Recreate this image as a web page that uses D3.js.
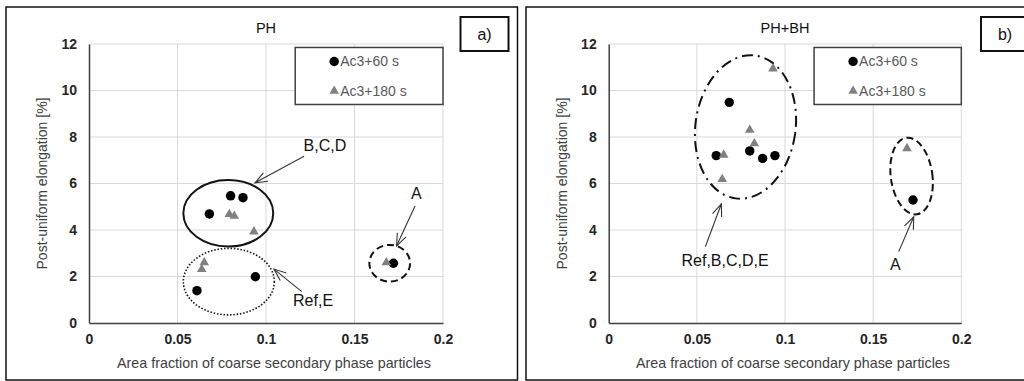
<!DOCTYPE html>
<html>
<head>
<meta charset="utf-8">
<script src="https://cdn.jsdelivr.net/npm/d3@7"></script>
<style>
  body { margin: 0; background: #fff; }
  svg { display: block; font-family: "Liberation Sans", Arial, sans-serif; }
</style>
</head>
<body>
<div id="chart"></div>
<script>
// Data
const xTicks = [0, 0.05, 0.1, 0.15, 0.2];
const yTicks = [0, 2, 4, 6, 8, 10, 12];
const seriesNames = ["Ac3+60 s", "Ac3+180 s"];

// Panel a) PH
const phShort = [[0.068, 4.69], [0.080, 5.47], [0.087, 5.39], [0.094, 1.99], [0.061, 1.39], [0.172, 2.57]];
const phLong = [[0.0793, 4.68], [0.0821, 4.6], [0.0932, 3.93], [0.0651, 2.6], [0.0637, 2.31], [0.168, 2.6]];

// Panel b) PH+BH
const phbhShort = [[0.061, 7.2], [0.0684, 9.49], [0.080, 7.4], [0.0873, 7.08], [0.0943, 7.2], [0.1726, 5.29]];
const phbhLong = [[0.0652, 7.23], [0.0644, 6.18], [0.080, 8.3], [0.0826, 7.72], [0.0932, 10.94], [0.1692, 7.51]];

// Group outlines (data units) and labelled arrows
const phGroups = [
  { cx: 0.0787, cy: 4.72, rx: 0.0254, ry: 1.43, rot: 0, style: "solid" },
  { cx: 0.079, cy: 1.78, rx: 0.0257, ry: 1.43, rot: 0, style: "dotted" },
  { cx: 0.1699, cy: 2.57, rx: 0.0115, ry: 0.79, rot: 0, style: "dashed" }
];
const phArrows = [
  { label: "B,C,D", from: [0.1215, 7.17], to: [0.0938, 6.03], at: [0.1333, 7.66] },
  { label: "Ref,E", from: [0.1202, 1.35], to: [0.1045, 2.32], at: [0.1266, 0.99] },
  { label: "A", from: [0.1842, 5.03], to: [0.1738, 3.32], at: [0.185, 5.59] }
];
const phbhGroups = [
  { cx: 0.0776, cy: 8.43, rx: 0.0284, ry: 3.1, rot: 8, style: "dashdot" },
  { cx: 0.1718, cy: 6.32, rx: 0.0118, ry: 1.66, rot: -8, style: "dashed" }
];
const phbhArrows = [
  { label: "Ref,B,C,D,E", from: [0.0548, 3.28], to: [0.0639, 5.12], at: [0.066, 2.71] },
  { label: "A", from: [0.1645, 3.07], to: [0.173, 4.57], at: [0.1626, 2.52] }
];

const width = 1024, height = 381;
const svg = d3.select("#chart").append("svg")
  .attr("width", width)
  .attr("height", height);

const dashes = { solid: null, dotted: "1.5,1.8", dashed: "7,4", dashdot: "11,5,2,5" };
const widths = { solid: 2, dotted: 1.6, dashed: 2, dashdot: 2 };

function drawPanel(cfg) {
  const g = svg.append("g");

  // outer frame
  g.append("rect")
    .attr("x", cfg.frame[0]).attr("y", cfg.frame[1])
    .attr("width", cfg.frame[2]).attr("height", cfg.frame[3])
    .attr("fill", "none").attr("stroke", "#111").attr("stroke-width", 1.5);

  const x = d3.scaleLinear().domain([0, 0.2]).range([cfg.left, cfg.right]);
  const y = d3.scaleLinear().domain([0, 12]).range([323, 44]);

  // gridlines
  g.append("g").selectAll("line.v").data(xTicks.slice(1)).join("line")
    .attr("x1", d => x(d)).attr("x2", d => x(d))
    .attr("y1", y(0)).attr("y2", y(12))
    .attr("stroke", "#d9d9d9").attr("stroke-width", 1);
  g.append("g").selectAll("line.h").data(yTicks.slice(1)).join("line")
    .attr("x1", x(0)).attr("x2", x(0.2))
    .attr("y1", d => y(d)).attr("y2", d => y(d))
    .attr("stroke", "#d9d9d9").attr("stroke-width", 1);

  // axes
  const xAxis = g.append("g").attr("transform", `translate(0,${y(0)})`)
    .call(d3.axisBottom(x).tickValues(xTicks).tickSize(0).tickPadding(11)
      .tickFormat(d => d === 0 ? "0" : String(+d.toFixed(2))));
  const yAxis = g.append("g").attr("transform", `translate(${x(0)},0)`)
    .call(d3.axisLeft(y).tickValues(yTicks).tickSize(0).tickPadding(12));
  [xAxis, yAxis].forEach(a => {
    a.select(".domain").attr("stroke", "#404040").attr("stroke-width", 1.5);
    a.selectAll("text").attr("font-size", 14).attr("font-weight", "bold")
      .attr("fill", "#262626").attr("font-family", "Liberation Sans, Arial, sans-serif");
  });

  // axis titles
  g.append("text")
    .attr("x", (x(0) + x(0.2)) / 2 + 8).attr("y", 368)
    .attr("text-anchor", "middle").attr("font-size", 14.3).attr("fill", "#404040")
    .text("Area fraction of coarse secondary phase particles");
  g.append("text")
    .attr("transform", `translate(${cfg.left - 47},${(y(0) + y(12)) / 2}) rotate(-90)`)
    .attr("text-anchor", "middle").attr("dy", "0.35em").attr("font-size", 14).attr("fill", "#404040")
    .text("Post-uniform elongation [%]");

  // title
  g.append("text")
    .attr("x", (x(0) + x(0.2)) / 2).attr("y", 33)
    .attr("text-anchor", "middle").attr("font-size", 14.5).attr("fill", "#111")
    .text(cfg.title);

  // panel tag box
  g.append("rect")
    .attr("x", cfg.tag[0]).attr("y", 17).attr("width", cfg.tag[1]).attr("height", 34)
    .attr("fill", "#fff").attr("stroke", "#111").attr("stroke-width", 2);
  g.append("text")
    .attr("x", cfg.tag[0] + 24).attr("y", 34).attr("dy", "0.35em")
    .attr("text-anchor", "middle").attr("font-size", 16).attr("fill", "#111")
    .text(cfg.tagText);

  // legend
  const lx = x(0.1165), ly = y(11.85);
  g.append("rect")
    .attr("x", lx).attr("y", ly).attr("width", x(0.2) - lx).attr("height", 57)
    .attr("fill", "#fff").attr("stroke", "#404040").attr("stroke-width", 1.5);
  const legendItems = [
    { name: seriesNames[0], sym: d3.symbolCircle, size: 70, color: "#000" },
    { name: seriesNames[1], sym: d3.symbolTriangle, size: 40, color: "#808080" }
  ];
  legendItems.forEach((it, i) => {
    const yy = ly + 14 + i * 29.5;
    g.append("path")
      .attr("d", d3.symbol(it.sym, it.size)())
      .attr("transform", `translate(${lx + 39},${yy})`)
      .attr("fill", it.color);
    g.append("text")
      .attr("x", lx + 45).attr("y", yy).attr("dy", "0.35em")
      .attr("font-size", 14).attr("fill", "#595959")
      .text(it.name);
  });

  // group outlines
  g.append("g").selectAll("ellipse").data(cfg.groups).join("ellipse")
    .attr("cx", 0).attr("cy", 0)
    .attr("rx", d => x(d.rx) - x(0))
    .attr("ry", d => y(0) - y(d.ry))
    .attr("transform", d => `translate(${x(d.cx)},${y(d.cy)}) rotate(${d.rot})`)
    .attr("fill", "none").attr("stroke", "#111")
    .attr("stroke-width", d => widths[d.style])
    .attr("stroke-dasharray", d => dashes[d.style]);

  // points
  g.append("g").selectAll("path").data(cfg.short).join("path")
    .attr("d", d3.symbol(d3.symbolCircle, 70)())
    .attr("transform", d => `translate(${x(d[0])},${y(d[1])})`)
    .attr("fill", "#000");
  g.append("g").selectAll("path").data(cfg.long).join("path")
    .attr("d", d3.symbol(d3.symbolTriangle, 40)())
    .attr("transform", d => `translate(${x(d[0])},${y(d[1])})`)
    .attr("fill", "#808080");

  // arrows with open heads
  cfg.arrows.forEach(a => {
    const x1 = x(a.from[0]), y1 = y(a.from[1]);
    const x2 = x(a.to[0]), y2 = y(a.to[1]);
    const ang = Math.atan2(y2 - y1, x2 - x1);
    const head = 13, spread = 0.38;
    const hp = [ang + Math.PI - spread, ang + Math.PI + spread]
      .map(t => [x2 + head * Math.cos(t), y2 + head * Math.sin(t)]);
    g.append("line").attr("x1", x1).attr("y1", y1).attr("x2", x2).attr("y2", y2)
      .attr("stroke", "#333").attr("stroke-width", 1.1);
    g.append("path")
      .attr("d", `M${hp[0][0]},${hp[0][1]}L${x2},${y2}L${hp[1][0]},${hp[1][1]}`)
      .attr("fill", "none").attr("stroke", "#333").attr("stroke-width", 1.1);
    g.append("text")
      .attr("x", x(a.at[0])).attr("y", y(a.at[1])).attr("dy", "0.35em")
      .attr("text-anchor", "middle").attr("font-size", 16).attr("fill", "#111")
      .text(a.label);
  });
}

drawPanel({
  title: "PH", tagText: "a)",
  frame: [6, 7, 511.5, 373], tag: [460.5, 48],
  left: 89, right: 443,
  short: phShort, long: phLong, groups: phGroups, arrows: phArrows
});
drawPanel({
  title: "PH+BH", tagText: "b)",
  frame: [526, 7, 510, 373], tag: [981, 60],
  left: 608.7, right: 961.3,
  short: phbhShort, long: phbhLong, groups: phbhGroups, arrows: phbhArrows
});
</script>
</body>
</html>
